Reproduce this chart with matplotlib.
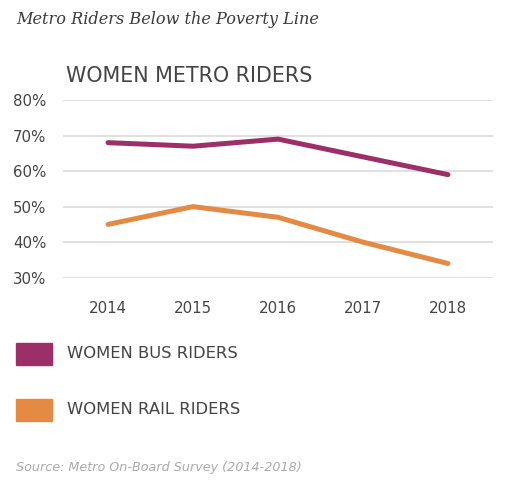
import matplotlib.pyplot as plt
from matplotlib.patches import Rectangle

_color_bus = "#9C2F68"
_color_rail = "#E48A42"
_color_text = "#444444"
_color_grid = "#DDDDDD"

years = ["2014", "2015", "2016", "2017", "2018"]
bus_riders = [68, 67, 69, 64, 59]
rail_riders = [45, 50, 47, 40, 34]
y_ticks = [30, 40, 50, 60, 70, 80]

plt.rcParams["font.family"] = ["DejaVu Sans"]

W, H = 509, 483
fig = plt.figure(figsize=(W / 100, H / 100), dpi=100)


def fx(px):
    return px / W


def fy(py):
    return 1 - py / H


ax = fig.add_axes([fx(63), fy(277.7), fx(493 - 63), (277.7 - 100) / H])

x = list(range(len(years)))
ax.plot(x, bus_riders, color=_color_bus, lw=3.6, solid_capstyle="round",
        solid_joinstyle="round", zorder=3, clip_on=False)
ax.plot(x, rail_riders, color=_color_rail, lw=3.6, solid_capstyle="round",
        solid_joinstyle="round", zorder=3, clip_on=False)

ax.set_xlim(-0.53, 4.53)
ax.set_ylim(30, 80)
ax.set_xticks(x)
ax.set_xticklabels(years)
ax.set_yticks(y_ticks)
ax.set_yticklabels([f"{v}%" for v in y_ticks])
ax.tick_params(axis="both", length=0, labelsize=10.8, labelcolor=_color_text)
ax.tick_params(axis="x", pad=17)
ax.tick_params(axis="y", pad=12)
ax.grid(axis="y", color=_color_grid, lw=1.3, zorder=1)
ax.set_axisbelow(True)
for s in ax.spines.values():
    s.set_visible(False)

fig.text(fx(16), fy(24), "Metro Riders Below the Poverty Line",
         family="DejaVu Serif", style="italic", fontsize=11.6,
         color="#3A3A3A", va="baseline")
fig.text(fx(66), fy(82), "WOMEN METRO RIDERS", fontsize=14.9,
         color=_color_text, va="baseline")

legend_items = [("WOMEN BUS RIDERS", _color_bus, 343),
                ("WOMEN RAIL RIDERS", _color_rail, 399)]
for label, col, top in legend_items:
    fig.patches.append(Rectangle((fx(16), fy(top + 21.5)), fx(36), 21.5 / H,
                                 transform=fig.transFigure, color=col))
    fig.text(fx(67), fy(top + 10.8), label, fontsize=11.8,
             color=_color_text, va="center")

fig.text(fx(16), fy(467), "Source: Metro On-Board Survey (2014-2018)",
         style="italic", fontsize=9.2, color="#AAAAAA", va="center")

fig.savefig("out.png", dpi=100)
